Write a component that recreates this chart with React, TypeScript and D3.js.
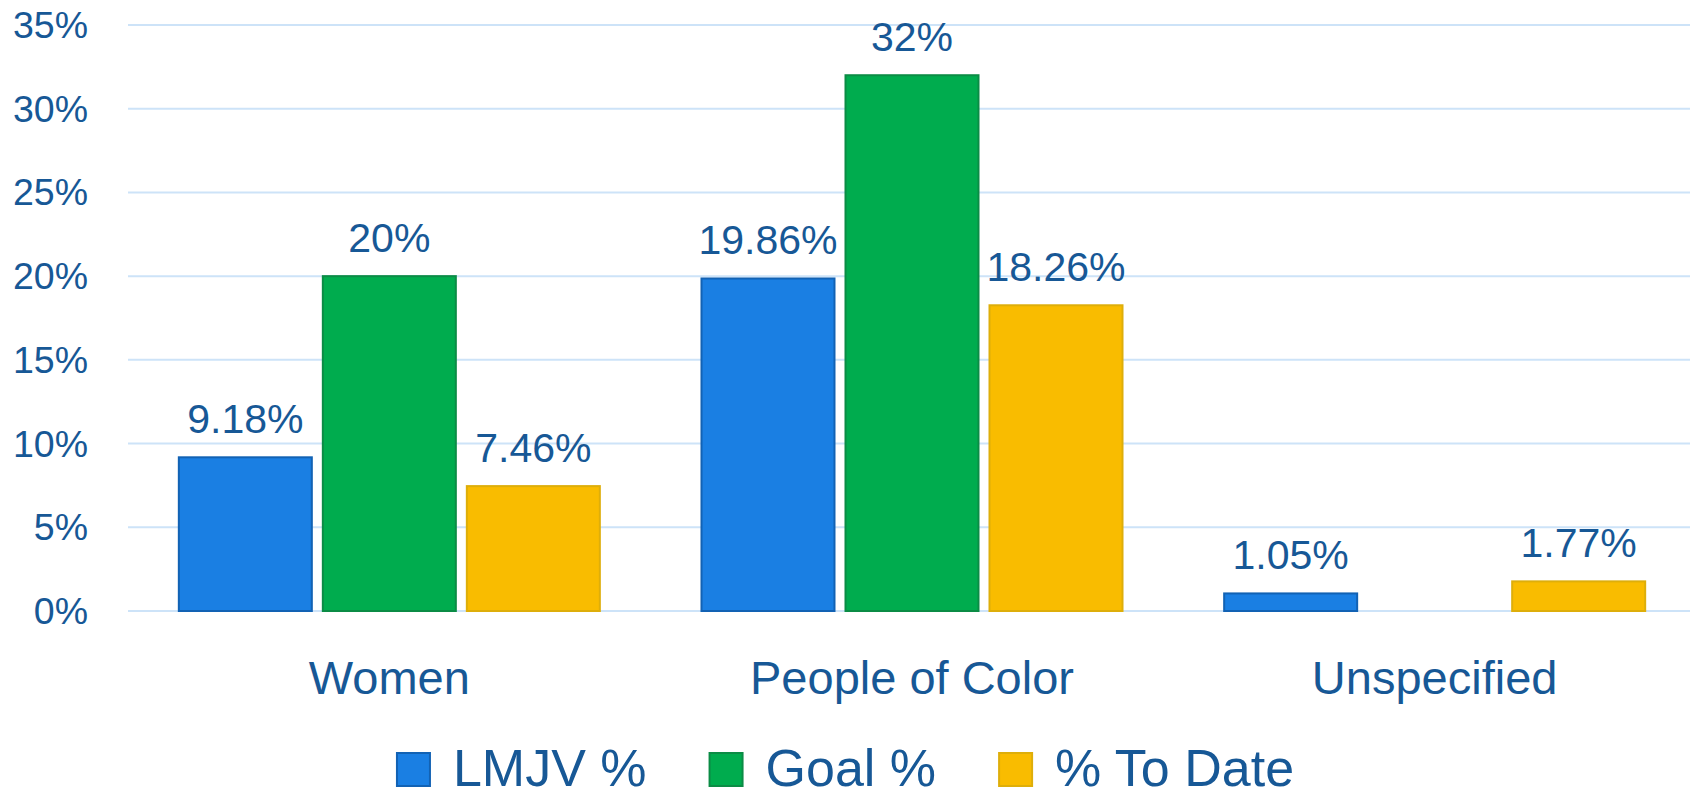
import React, { useRef, useEffect } from 'react';
import * as d3 from 'd3';

const categories = ['Women', 'People of Color', 'Unspecified'];
const seriesNames = ['LMJV %', 'Goal %', '% To Date'];
const lmjvValues = [9.18, 19.86, 1.05];
const goalValues: (number | null)[] = [20, 32, null];
const toDateValues = [7.46, 18.26, 1.77];
const yTicks = [0, 5, 10, 15, 20, 25, 30, 35];

const fills = ['#1a7fe3', '#00ac4e', '#f9bc00'];
const strokes = ['#1262b4', '#0b8c45', '#deae0a'];
const textColor = '#175896';
const gridColor = '#cde3f8';
const font = '"Liberation Sans", Arial, sans-serif';

const W = 1690;
const H = 798;

const App: React.FC = () => {
    const svgRef = useRef<SVGSVGElement | null>(null);

    useEffect(() => {
        document.body.style.margin = '0';
        if (!svgRef.current) return;

        const svg = d3.select(svgRef.current);
        svg.selectAll('*').remove();

        const seriesValues = [lmjvValues, goalValues, toDateValues];
        const data = categories.map((cat, i) => ({
            cat,
            vals: seriesNames.map((s, j) => ({ s, j, v: seriesValues[j][i] })),
        }));

        const left = 128;
        const x0 = d3.scaleBand<string>()
            .domain(categories)
            .range([left, left + 1568])
            .padding(0);

        const x1 = d3.scaleBand<string>()
            .domain(seriesNames)
            .range([0, x0.bandwidth()])
            .paddingInner(0.0625)
            .paddingOuter(0.346);

        const y = d3.scaleLinear()
            .domain([0, 35])
            .range([611, 25]);

        // gridlines
        svg.append('g')
            .selectAll('line')
            .data(yTicks)
            .enter()
            .append('line')
            .attr('x1', left)
            .attr('x2', W)
            .attr('y1', d => y(d))
            .attr('y2', d => y(d))
            .attr('stroke', gridColor)
            .attr('stroke-width', 2);

        // y tick labels
        svg.append('g')
            .selectAll('text')
            .data(yTicks)
            .enter()
            .append('text')
            .attr('x', 88)
            .attr('y', d => y(d) + 13)
            .attr('text-anchor', 'end')
            .attr('font-family', font)
            .attr('font-size', 37.5)
            .attr('fill', textColor)
            .text(d => `${d}%`);

        const groups = svg.append('g')
            .selectAll('g')
            .data(data)
            .enter()
            .append('g')
            .attr('transform', d => `translate(${x0(d.cat)}, 0)`);

        const bars = groups.selectAll('g')
            .data(d => d.vals.filter(v => v.v !== null))
            .enter()
            .append('g');

        bars.append('rect')
            .attr('x', d => (x1(d.s) as number) + 1)
            .attr('y', d => y(d.v as number))
            .attr('width', x1.bandwidth() - 2)
            .attr('height', d => y(0) - y(d.v as number))
            .attr('fill', d => fills[d.j])
            .attr('stroke', d => strokes[d.j])
            .attr('stroke-width', 2);

        bars.append('text')
            .attr('x', d => (x1(d.s) as number) + x1.bandwidth() / 2)
            .attr('y', d => y(d.v as number) - 24)
            .attr('text-anchor', 'middle')
            .attr('font-family', font)
            .attr('font-size', 41)
            .attr('fill', textColor)
            .text(d => `${d.v}%`);

        // category labels
        svg.append('g')
            .selectAll('text')
            .data(categories)
            .enter()
            .append('text')
            .attr('x', d => (x0(d) as number) + x0.bandwidth() / 2)
            .attr('y', 694)
            .attr('text-anchor', 'middle')
            .attr('font-family', font)
            .attr('font-size', 47)
            .attr('fill', textColor)
            .text(d => d);

        // legend (kept just inside the bottom edge)
        const legend = svg.append('g');
        const sq = 35;
        const gap = 22;
        const itemGap = 62;
        let cx = 0;
        seriesNames.forEach((name, i) => {
            const item = legend.append('g').attr('transform', `translate(${cx}, 0)`);
            item.append('rect')
                .attr('x', 1)
                .attr('y', 753)
                .attr('width', sq - 2)
                .attr('height', sq - 2)
                .attr('fill', fills[i])
                .attr('stroke', strokes[i])
                .attr('stroke-width', 2);
            const t = item.append('text')
                .attr('x', sq + gap)
                .attr('y', 786)
                .attr('font-family', font)
                .attr('font-size', 52)
                .attr('fill', textColor)
                .text(name);
            const tw = (t.node() as SVGTextElement).getComputedTextLength();
            cx += sq + gap + tw + itemGap;
        });
        const total = cx - itemGap;
        legend.attr('transform', `translate(${W / 2 - total / 2}, 0)`);
    }, []);

    return (
        <svg ref={svgRef} width={W} height={H} style={{ display: 'block', background: '#fff' }}></svg>
    );
};

export default App;
